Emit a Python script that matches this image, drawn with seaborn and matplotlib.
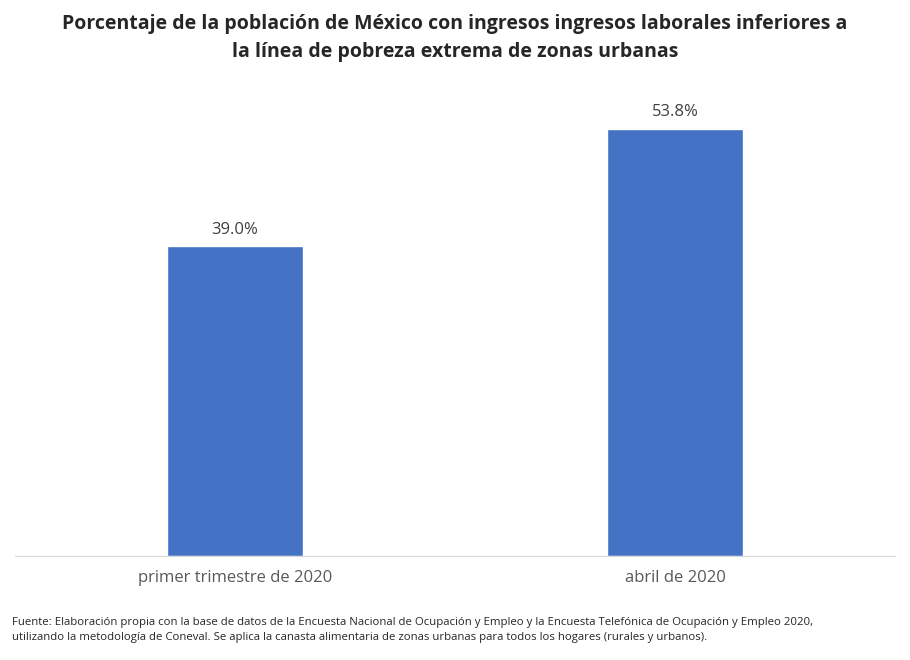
import matplotlib
matplotlib.use("Agg")
import matplotlib.pyplot as plt
import seaborn as sns
import pandas as pd

categorias = ["primer trimestre de 2020", "abril de 2020"]
porcentajes = [39.0, 53.8]

df = pd.DataFrame({"periodo": categorias, "pct": porcentajes})

sns.set_style("white")
plt.rcParams["font.family"] = ["Open Sans", "DejaVu Sans"]

fig = plt.figure(figsize=(9.1, 6.6), dpi=100)
# axes in figure fraction: left 15px, right 895px, bottom 556px, top 100px
ax = fig.add_axes([15 / 910, 1 - 556 / 660, 880 / 910, 456 / 660])
sns.barplot(data=df, x="periodo", y="pct", color="#4472C4", width=0.31,
            saturation=1, ax=ax)
ax.set_xlim(-0.5, 1.5)
ax.set_ylim(0, 57.4)
ax.set_xlabel("")
ax.set_ylabel("")
ax.set_yticks([])
for s in ["top", "right", "left"]:
    ax.spines[s].set_visible(False)
ax.spines["bottom"].set_color("#D9D9D9")
ax.tick_params(axis="x", length=0, labelsize=12, colors="#595959", pad=10)

for i, v in enumerate(porcentajes):
    ax.annotate(f"{v:.1f}%", (i, v), xytext=(0, 6), textcoords="offset points",
                ha="center", va="bottom", fontsize=12, color="#404040")

fig.text(0.5, 1 - 38 / 660,
         "Porcentaje de la población de México con ingresos ingresos laborales inferiores a\n"
         "la línea de pobreza extrema de zonas urbanas",
         ha="center", va="center", fontsize=14, fontweight="bold", linespacing=1.5)

fig.text(12 / 910, 1 - 630 / 660,
         "Fuente: Elaboración propia con la base de datos de la Encuesta Nacional de Ocupación y Empleo y la Encuesta Telefónica de Ocupación y Empleo 2020,\n"
         "utilizando la metodología de Coneval. Se aplica la canasta alimentaria de zonas urbanas para todos los hogares (rurales y urbanos).",
         ha="left", va="center", fontsize=8.2, linespacing=1.4)

fig.savefig("out.png", dpi=100)
